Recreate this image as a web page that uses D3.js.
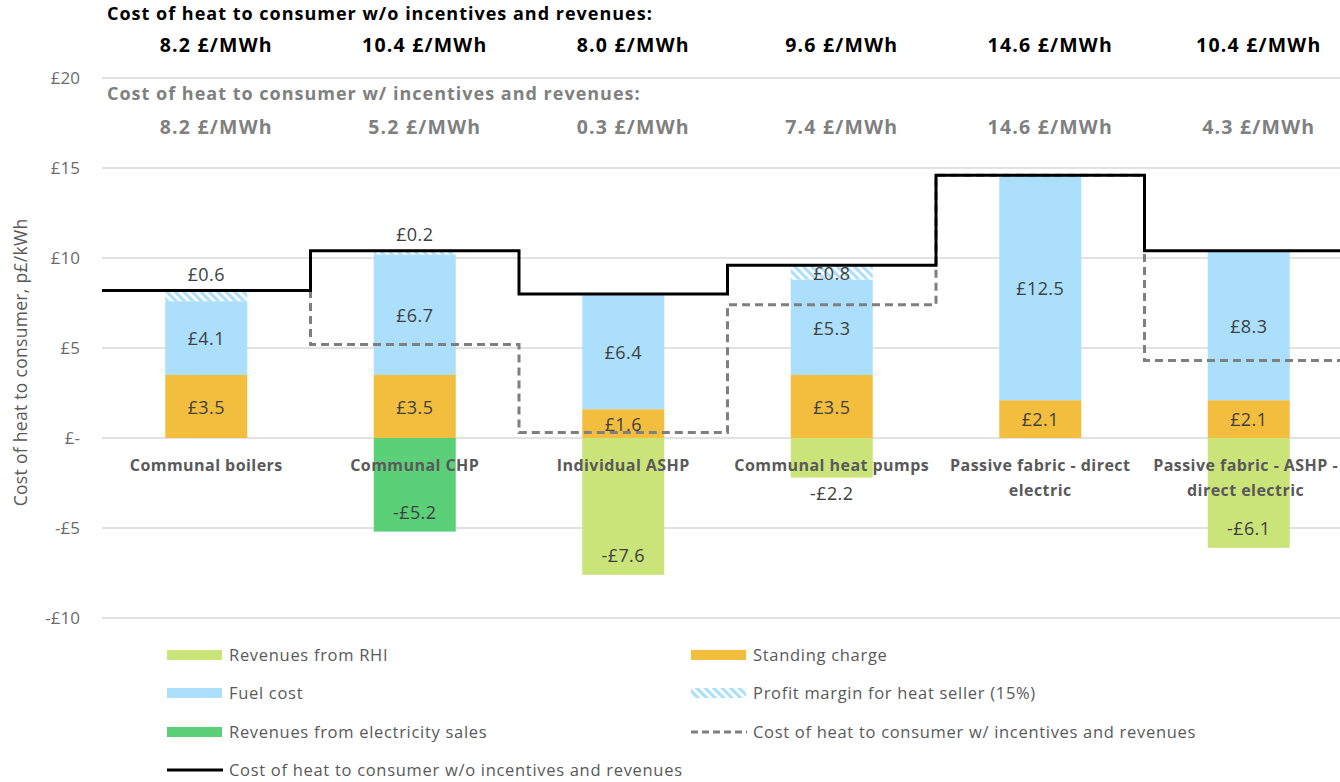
<!DOCTYPE html>
<html>
<head>
<meta charset="utf-8">
<script src="https://cdn.jsdelivr.net/npm/d3@7"></script>
<style>
  html, body { margin: 0; padding: 0; background: #fff; }
  svg { display: block; }
  text { font-family: "Open Sans", "Noto Sans", sans-serif; }
</style>
</head>
<body>
<svg id="chart" width="1340" height="782"></svg>
<script>
// Heat cost breakdown per heating option, p£/kWh
const categories = [
  "Communal boilers",
  "Communal CHP",
  "Individual ASHP",
  "Communal heat pumps",
  "Passive fabric - direct electric",
  "Passive fabric - ASHP - direct electric"
];
const standingCharge = [3.5, 3.5, 1.6, 3.5, 2.1, 2.1];
const fuelCost       = [4.1, 6.7, 6.4, 5.3, 12.5, 8.3];
const profitMargin   = [0.6, 0.2, 0.0, 0.8, 0.0, 0.0];
const revenuesRHI    = [0, 0, -7.6, -2.2, 0, -6.1];
const revenuesElec   = [0, -5.2, 0, 0, 0, 0];
const costWithout    = [8.2, 10.4, 8.0, 9.6, 14.6, 10.4];
const costWith       = [8.2, 5.2, 0.3, 7.4, 14.6, 4.3];
const yTicks         = [-10, -5, 0, 5, 10, 15, 20];

const headingWithout = "Cost of heat to consumer w/o incentives and revenues:";
const headingWith    = "Cost of heat to consumer w/ incentives and revenues:";
const yTitle         = "Cost of heat to consumer, p£/kWh";

const colors = {
  rhi: "#cbe47a",
  standing: "#f3be3e",
  fuel: "#abdffc",
  elec: "#5bd079",
  dashed: "#7f7f7f",
  solid: "#000000"
};

const svg = d3.select("#chart");
const W = 1340;

const plotLeft = 102, plotRight = 1353;
const x = d3.scaleBand().domain(categories).range([plotLeft, plotRight]).paddingInner(0).paddingOuter(0);
const y = d3.scaleLinear().domain([-10, 20]).range([618, 78]);
const barW = 82;

const defs = svg.append("defs");
const pat = defs.append("pattern")
  .attr("id", "hatch")
  .attr("patternUnits", "userSpaceOnUse")
  .attr("width", 6).attr("height", 6)
  .attr("patternTransform", "rotate(-45)");
pat.append("rect").attr("width", 6).attr("height", 6).attr("fill", "#ffffff");
pat.append("rect").attr("width", 3.2).attr("height", 6).attr("fill", colors.fuel);

// Gridlines
svg.append("g").selectAll("line").data(yTicks).join("line")
  .attr("x1", plotLeft).attr("x2", W)
  .attr("y1", d => y(d)).attr("y2", d => y(d))
  .attr("stroke", "#d9d9d9").attr("stroke-width", 1.5);

// Y axis tick labels
const fmtMoney = v => v === 0 ? "£-" : (v < 0 ? "-£" + Math.abs(v) : "£" + v);
const yAxis = d3.axisLeft(y).tickValues(yTicks).tickFormat(fmtMoney).tickSize(0).tickPadding(22);
const yg = svg.append("g").attr("transform", `translate(${plotLeft},0)`).call(yAxis);
yg.select(".domain").remove();
yg.selectAll("text")
  .attr("fill", "#6b6b6b")
  .style("font-size", "17px")
  .style("font-family", "'Open Sans', sans-serif");

// Y axis title
svg.append("text")
  .attr("transform", `translate(27,${y(4.2)}) rotate(-90)`)
  .attr("text-anchor", "middle")
  .attr("fill", "#595959")
  .style("font-size", "17.5px")
  .style("letter-spacing", "0.3px")
  .text(yTitle);

// Stacked segments
const rows = categories.map((c, i) => {
  const segs = [];
  let top = 0;
  [["standing", standingCharge[i]], ["fuel", fuelCost[i]], ["profit", profitMargin[i]]].forEach(([k, v]) => {
    if (v > 0) { segs.push({ key: k, cat: c, v, y0: top, y1: top + v }); top += v; }
  });
  let bot = 0;
  [["rhi", revenuesRHI[i]], ["elec", revenuesElec[i]]].forEach(([k, v]) => {
    if (v < 0) { segs.push({ key: k, cat: c, v, y0: bot, y1: bot + v }); bot += v; }
  });
  return segs;
}).flat();

const fillFor = k => k === "profit" ? "url(#hatch)" : colors[k];

svg.append("g").selectAll("rect").data(rows).join("rect")
  .attr("x", d => x(d.cat) + x.bandwidth() / 2 - barW / 2)
  .attr("width", barW)
  .attr("y", d => y(Math.max(d.y0, d.y1)))
  .attr("height", d => Math.abs(y(d.y0) - y(d.y1)))
  .attr("fill", d => fillFor(d.key));

// Step lines for total cost with and without incentives
const stepPts = vals => {
  const pts = categories.map((c, i) => [x(c), y(vals[i])]);
  pts.push([x(categories[categories.length - 1]) + x.bandwidth(), y(vals[vals.length - 1])]);
  return pts;
};
const stepLine = d3.line().curve(d3.curveStepAfter);

svg.append("path")
  .attr("d", stepLine(stepPts(costWith)))
  .attr("fill", "none")
  .attr("stroke", colors.dashed)
  .attr("stroke-width", 3)
  .attr("stroke-dasharray", "8,5");

svg.append("path")
  .attr("d", stepLine(stepPts(costWithout)))
  .attr("fill", "none")
  .attr("stroke", colors.solid)
  .attr("stroke-width", 3);

// Segment value labels
const labelY = d => {
  if (d.key === "profit" && d.v < 0.7) return y(d.y1) - 16;
  if (d.v < 0) {
    if (Math.abs(d.v) < 3) return y(d.y1) + 16;
    return y(d.y1) - 19;
  }
  return y((d.y0 + d.y1) / 2) + 1;
};
svg.append("g").selectAll("text").data(rows).join("text")
  .attr("x", d => x(d.cat) + x.bandwidth() / 2)
  .attr("y", d => labelY(d))
  .attr("dy", "0.35em")
  .attr("text-anchor", "middle")
  .attr("fill", "#404040")
  .style("font-size", "18px")
  .style("letter-spacing", "0.4px")
  .text(d => fmtMoney(d.v));

// Category labels, wrapped below the zero line and kept inside the frame
const catG = svg.append("g");
categories.forEach(c => {
  const cx = x(c) + x.bandwidth() / 2;
  const t = catG.append("text")
    .attr("x", cx)
    .attr("y", y(0) + 33)
    .attr("text-anchor", "middle")
    .attr("fill", "#595959")
    .style("font-size", "16px")
    .style("font-weight", "bold")
    .style("letter-spacing", "0.45px");
  const words = c.split(" ");
  let line = [];
  let tspan = t.append("tspan").attr("x", cx).attr("dy", 0);
  words.forEach(w => {
    line.push(w);
    tspan.text(line.join(" "));
    if (tspan.node().getComputedTextLength() > 200 && line.length > 1) {
      line.pop();
      tspan.text(line.join(" "));
      line = [w];
      tspan = t.append("tspan").attr("x", cx).attr("dy", "25px").text(w);
    }
  });
  const bb = t.node().getBBox();
  const overflow = bb.x + bb.width - (W - 2);
  if (overflow > 0) {
    t.selectAll("tspan").attr("x", cx - overflow);
  }
});

// Headline totals
svg.append("text")
  .attr("x", 107).attr("y", 20)
  .attr("fill", "#000")
  .style("font-size", "18px").style("font-weight", "bold")
  .style("letter-spacing", "1px")
  .text(headingWithout);
svg.append("g").selectAll("text").data(categories).join("text")
  .attr("x", c => x(c) + x.bandwidth() / 2 + 10)
  .attr("y", 52)
  .attr("text-anchor", "middle")
  .attr("fill", "#000")
  .style("font-size", "19.5px").style("font-weight", "bold")
  .style("letter-spacing", "1.2px")
  .text((c, i) => costWithout[i].toFixed(1) + " £/MWh");

svg.append("text")
  .attr("x", 107).attr("y", 100)
  .attr("fill", "#808080")
  .style("font-size", "18px").style("font-weight", "bold")
  .style("letter-spacing", "1px")
  .text(headingWith);
svg.append("g").selectAll("text").data(categories).join("text")
  .attr("x", c => x(c) + x.bandwidth() / 2 + 10)
  .attr("y", 134)
  .attr("text-anchor", "middle")
  .attr("fill", "#808080")
  .style("font-size", "19.5px").style("font-weight", "bold")
  .style("letter-spacing", "1.2px")
  .text((c, i) => costWith[i].toFixed(1) + " £/MWh");

// Legend
const legendItems = [
  { label: "Revenues from RHI", type: "rect", fill: colors.rhi },
  { label: "Standing charge", type: "rect", fill: colors.standing },
  { label: "Fuel cost", type: "rect", fill: colors.fuel },
  { label: "Profit margin for heat seller (15%)", type: "rect", fill: "url(#hatch)" },
  { label: "Revenues from electricity sales", type: "rect", fill: colors.elec },
  { label: "Cost of heat to consumer w/ incentives and revenues", type: "dash", stroke: colors.dashed },
  { label: "Cost of heat to consumer w/o incentives and revenues", type: "line", stroke: colors.solid }
];
const legX = [167, 691];
const legY = [655, 693, 732, 770];
const lg = svg.append("g");
legendItems.forEach((it, i) => {
  const gx = legX[i % 2], gy = legY[Math.floor(i / 2)];
  const g = lg.append("g").attr("transform", `translate(${gx},${gy})`);
  if (it.type === "rect") {
    g.append("rect").attr("x", 0).attr("y", -5).attr("width", 55).attr("height", 10).attr("fill", it.fill);
  } else {
    g.append("line").attr("x1", 0).attr("x2", 56).attr("y1", 0).attr("y2", 0)
      .attr("stroke", it.stroke).attr("stroke-width", 3)
      .attr("stroke-dasharray", it.type === "dash" ? "7,4" : null);
  }
  g.append("text").attr("x", 62).attr("y", 0).attr("dy", "0.35em")
    .attr("fill", "#595959")
    .style("font-size", "16.5px")
    .style("letter-spacing", "0.7px")
    .text(it.label);
});
</script>
</body>
</html>
